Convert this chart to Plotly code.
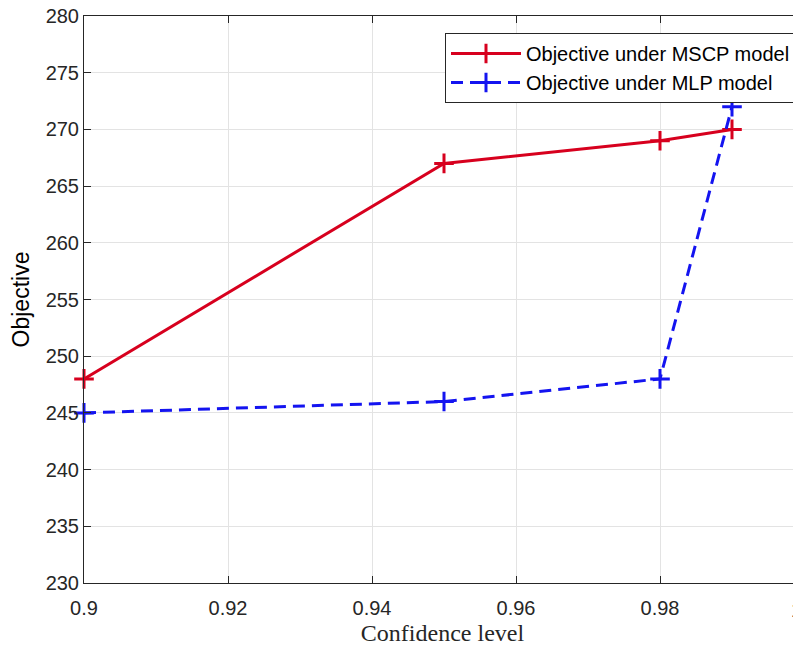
import plotly.graph_objects as go

conf_levels = [0.90, 0.95, 0.98, 0.99]
mscp_objective = [248, 267, 269, 270]
mlp_objective = [245, 246, 248, 272]

x_ticks = [0.90, 0.92, 0.94, 0.96, 0.98, 1.00]
x_tick_labels = ["0.9", "0.92", "0.94", "0.96", "0.98", "1"]
y_ticks = [230, 235, 240, 245, 250, 255, 260, 265, 270, 275, 280]

# page body adds an 8px offset; compensate so the plot lands where the reference has it
OFF = 8
W, H = 801 - OFF, 648 - OFF
L, T, B = 84 - OFF, 16 - OFF, 65
plot_w = W - L
plot_h = H - T - B
x_max = 0.9 + 0.1 * plot_w / 720.0

red = "rgb(215,0,30)"
blue = "rgb(20,20,240)"

fig = go.Figure()
fig.add_trace(go.Scatter(
    x=conf_levels, y=mscp_objective, mode="lines+markers",
    name="Objective under MSCP model",
    line=dict(color=red, width=3),
    marker=dict(symbol="cross-thin", size=14, line=dict(color=red, width=3)),
    cliponaxis=False,
))
fig.add_trace(go.Scatter(
    x=conf_levels, y=mlp_objective, mode="lines+markers",
    name="Objective under MLP model",
    line=dict(color=blue, width=3, dash="12px,7px"),
    marker=dict(symbol="cross-thin", size=14, line=dict(color=blue, width=3)),
    cliponaxis=False,
))

axis_common = dict(
    showline=True, linecolor="#262626", linewidth=1, mirror="ticks",
    ticks="inside", ticklen=7, tickcolor="#262626",
    showgrid=True, gridcolor="#e3e3e3", gridwidth=1, zeroline=False,
    ticklabeloverflow="allow", automargin=False,
    tickfont=dict(family="Liberation Sans, Arial, sans-serif", size=20, color="#262626"),
)

fig.update_layout(
    width=W, height=H,
    margin=dict(l=L, r=0, t=T, b=B, autoexpand=False),
    paper_bgcolor="white", plot_bgcolor="white",
    showlegend=True,
    legend=dict(
        x=(796 - 84) / plot_w, y=(583 - 33) / plot_h, xanchor="right", yanchor="top",
        bgcolor="white", bordercolor="#262626", borderwidth=1,
        font=dict(family="Liberation Sans, Arial, sans-serif", size=20, color="black"),
        tracegroupgap=0, itemwidth=70,
    ),
    xaxis=dict(
        range=[0.9, x_max], tickvals=x_ticks, ticktext=x_tick_labels,
        ticklabelstandoff=7,
        title=dict(text="Confidence level", standoff=6,
                   font=dict(family="Liberation Serif, Times New Roman, serif", size=24, color="#262626")),
        **axis_common,
    ),
    yaxis=dict(
        range=[230, 280], tickvals=y_ticks,
        title=dict(text="Objective", standoff=13,
                   font=dict(family="Liberation Sans, Arial, sans-serif", size=23, color="black")),
        **axis_common,
    ),
)

# partially visible "1" tick label at the clipped right edge
fig.add_annotation(
    x=(804 - 84) / plot_w, y=0, xref="paper", yref="paper",
    text="1", showarrow=False, yanchor="top", yshift=-14,
    font=dict(family="Liberation Sans, Arial, sans-serif", size=20, color="#262626"),
)

fig.write_html("out.html")
